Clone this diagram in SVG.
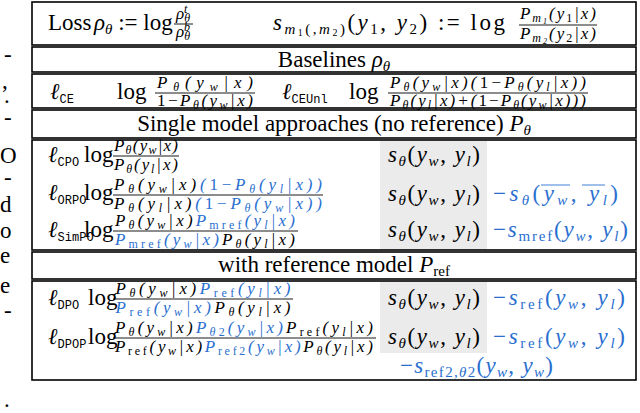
<svg xmlns="http://www.w3.org/2000/svg" width="640" height="413" viewBox="0 0 640 413">
<style>
text{font-family:"Liberation Serif","Times New Roman",serif;fill:#000}
.m{font-size:23px}
.f{font-size:17px;text-anchor:middle}
.i{font-style:italic}
.n{font-style:normal}
.tt{font-family:"Liberation Mono",monospace;font-size:12px;font-style:normal}
.b{fill:#2a6fd0}
.ms{font-size:15px}
.fs{font-size:12px}
.c{text-anchor:middle}
.fl{stroke:#000;stroke-width:0.9}
.bl{stroke:#2a6fd0;stroke-width:0.9}
.frame{fill:none;stroke:#000;stroke-width:1.6}
</style>
<rect width="640" height="413" fill="#fff"/>
<g id="side" class="m">
<text x="4" y="62">-</text><text x="2" y="88">,</text><text x="4" y="103">.</text><text x="4" y="125">-</text>
<text x="0" y="163">O</text><text x="4" y="185">-</text><text x="0" y="212">d</text><text x="0" y="238">o</text>
<text x="0" y="263">e</text><text x="0" y="293">e</text><text x="4" y="318">-</text><text x="4" y="407">.</text>
</g>
<g id="shade"><rect x="380" y="140" width="107" height="110" fill="#ebebeb"/><rect x="380" y="281" width="107" height="72" fill="#ebebeb"/></g>
<g id="frames">
<rect class="frame" x="32" y="2" width="604" height="43"/>
<rect class="frame" x="32" y="47" width="604" height="25"/>
<rect class="frame" x="32" y="74" width="604" height="34"/>
<rect class="frame" x="32" y="110" width="604" height="28"/>
<rect class="frame" x="32" y="140" width="604" height="110"/>
<rect class="frame" x="32" y="252" width="604" height="27"/>
<rect class="frame" x="32" y="281" width="604" height="99"/>
</g>
<g id="row-loss">
<text class="m" x="48" y="30">Loss</text>
<text class="m" x="94" y="30"><tspan class="i">ρ</tspan><tspan class="ms i" dy="4">θ</tspan><tspan dy="-4"> := log</tspan></text>
<text class="f i" x="183" y="19">ρ<tspan class="fs" dy="3">θ</tspan><tspan class="fs" dx="-6" dy="-9">t</tspan></text>
<line class="fl" x1="174" y1="24" x2="193" y2="24"/>
<text class="f i" x="183" y="37">ρ<tspan class="fs" dy="3">θ</tspan><tspan class="fs" dx="-6" dy="-9">b</tspan></text>
<text class="m" x="273" y="30" textLength="232"><tspan class="i">s</tspan><tspan class="ms i" dy="4">m</tspan><tspan font-size="10" dy="2">1</tspan><tspan class="ms" dy="-2">(,</tspan><tspan class="ms i">m</tspan><tspan font-size="10" dy="2">2</tspan><tspan class="ms" dy="-2">)</tspan><tspan dy="-4">(</tspan><tspan class="i">y</tspan><tspan class="ms" dy="4">1</tspan><tspan dy="-4">, </tspan><tspan class="i">y</tspan><tspan class="ms" dy="4">2</tspan><tspan dy="-4">) := log</tspan></text>
<text class="f i" x="558" y="19" textLength="76">P<tspan class="fs" dy="3">m</tspan><tspan font-size="8" dy="2">1</tspan><tspan dy="-5">(y</tspan><tspan class="fs n" dy="3">1</tspan><tspan dy="-3">|x)</tspan></text>
<line class="fl" x1="519" y1="25" x2="597" y2="25"/>
<text class="f i" x="558" y="39" textLength="76">P<tspan class="fs" dy="3">m</tspan><tspan font-size="8" dy="2">2</tspan><tspan dy="-5">(y</tspan><tspan class="fs n" dy="3">2</tspan><tspan dy="-3">|x)</tspan></text>
</g>
<g id="row-baselines"><text class="m c" x="334" y="67">Baselines <tspan class="i">ρ</tspan><tspan class="ms i" dy="4">θ</tspan></text></g>
<g id="row-ce">
<text class="m" x="50" y="99"><tspan class="i">ℓ</tspan><tspan class="tt" dy="4">CE</tspan></text><text class="m" x="117" y="99">log</text>
<text class="f i" x="205" y="88" textLength="96">P<tspan class="fs" dy="3">θ</tspan><tspan dy="-3">(y</tspan><tspan class="fs" dy="3">w</tspan><tspan dy="-3">|x)</tspan></text>
<line class="fl" x1="155" y1="93" x2="255" y2="93"/>
<text class="f i" x="205" y="106" textLength="96"><tspan class="n">1−</tspan>P<tspan class="fs" dy="3">θ</tspan><tspan dy="-3">(y</tspan><tspan class="fs" dy="3">w</tspan><tspan dy="-3">|x)</tspan></text>
<text class="m" x="282" y="99"><tspan class="i">ℓ</tspan><tspan class="tt" dy="4">CEUnl</tspan></text><text class="m" x="349" y="99">log</text>
<text class="f i" x="488" y="88" textLength="196">P<tspan class="fs" dy="3">θ</tspan><tspan dy="-3">(y</tspan><tspan class="fs" dy="3">w</tspan><tspan dy="-3">|x)(</tspan><tspan class="n">1−</tspan>P<tspan class="fs" dy="3">θ</tspan><tspan dy="-3">(y</tspan><tspan class="fs" dy="3">l</tspan><tspan dy="-3">|x))</tspan></text>
<line class="fl" x1="388" y1="93" x2="588" y2="93"/>
<text class="f i" x="488" y="106" textLength="196">P<tspan class="fs" dy="3">θ</tspan><tspan dy="-3">(y</tspan><tspan class="fs" dy="3">l</tspan><tspan dy="-3">|x)+(</tspan><tspan class="n">1−</tspan>P<tspan class="fs" dy="3">θ</tspan><tspan dy="-3">(y</tspan><tspan class="fs" dy="3">w</tspan><tspan dy="-3">|x)))</tspan></text>
</g>
<g id="row-single"><text class="m c" x="334" y="131">Single model approaches (no reference) <tspan class="i">P</tspan><tspan class="ms i" dy="4">θ</tspan></text></g>
<g id="row-cpo">
<text class="m" x="48" y="162"><tspan class="i">ℓ</tspan><tspan class="tt" dy="4">CPO</tspan></text><text class="m" x="84" y="162">log</text>
<text class="f i" x="146" y="151" textLength="64">P<tspan class="fs" dy="3">θ</tspan><tspan dy="-3">(y</tspan><tspan class="fs" dy="3">w</tspan><tspan dy="-3">|x)</tspan></text>
<line class="fl" x1="113" y1="156" x2="179" y2="156"/>
<text class="f i" x="146" y="170" textLength="64">P<tspan class="fs" dy="3">θ</tspan><tspan dy="-3">(y</tspan><tspan class="fs" dy="3">l</tspan><tspan dy="-3">|x)</tspan></text>
<text class="m i" x="388" y="162" textLength="92">s<tspan class="ms" dy="4">θ</tspan><tspan dy="-4" class="n">(</tspan>y<tspan class="ms" dy="4">w</tspan><tspan dy="-4" class="n">, </tspan>y<tspan class="ms" dy="4">l</tspan><tspan dy="-4" class="n">)</tspan></text>
</g>
<g id="row-orpo">
<text class="m" x="48" y="200"><tspan class="i">ℓ</tspan><tspan class="tt" dy="4">ORPO</tspan></text><text class="m" x="84" y="200">log</text>
<text class="f i" x="218" y="190" textLength="208">P<tspan class="fs" dy="3">θ</tspan><tspan dy="-3">(y</tspan><tspan class="fs" dy="3">w</tspan><tspan dy="-3">|x)</tspan><tspan class="b">(<tspan class="n">1−</tspan>P<tspan class="fs" dy="3">θ</tspan><tspan dy="-3">(y</tspan><tspan class="fs" dy="3">l</tspan><tspan dy="-3">|x))</tspan></tspan></text>
<line class="fl" x1="113" y1="195" x2="323" y2="195"/>
<text class="f i" x="218" y="209" textLength="208">P<tspan class="fs" dy="3">θ</tspan><tspan dy="-3">(y</tspan><tspan class="fs" dy="3">l</tspan><tspan dy="-3">|x)</tspan><tspan class="b">(<tspan class="n">1−</tspan>P<tspan class="fs" dy="3">θ</tspan><tspan dy="-3">(y</tspan><tspan class="fs" dy="3">w</tspan><tspan dy="-3">|x))</tspan></tspan></text>
<text class="m i" x="388" y="201" textLength="92">s<tspan class="ms" dy="4">θ</tspan><tspan dy="-4" class="n">(</tspan>y<tspan class="ms" dy="4">w</tspan><tspan dy="-4" class="n">, </tspan>y<tspan class="ms" dy="4">l</tspan><tspan dy="-4" class="n">)</tspan></text>
<text class="m i b" x="493" y="201" textLength="125"><tspan class="n">−</tspan>s<tspan class="ms" dy="4">θ</tspan><tspan dy="-4" class="n">(</tspan>y<tspan class="ms" dy="4">w</tspan><tspan dy="-4" class="n">, </tspan>y<tspan class="ms" dy="4">l</tspan><tspan dy="-4" class="n">)</tspan></text>
<line class="bl" x1="541" y1="185" x2="570" y2="185"/><line class="bl" x1="582" y1="185" x2="605" y2="185"/>
</g>
<g id="row-simpo">
<text class="m" x="48" y="237"><tspan class="i">ℓ</tspan><tspan class="tt" dy="4">SimPO</tspan></text><text class="m" x="84" y="237">log</text>
<text class="f i" x="205" y="226" textLength="180">P<tspan class="fs" dy="3">θ</tspan><tspan dy="-3">(y</tspan><tspan class="fs" dy="3">w</tspan><tspan dy="-3">|x)</tspan><tspan class="b">P<tspan class="fs n" dy="3">mref</tspan><tspan dy="-3">(y</tspan><tspan class="fs" dy="3">l</tspan><tspan dy="-3">|x)</tspan></tspan></text>
<line class="fl" x1="113" y1="231" x2="298" y2="231"/>
<text class="f i" x="205" y="245" textLength="180"><tspan class="b">P<tspan class="fs n" dy="3">mref</tspan><tspan dy="-3">(y</tspan><tspan class="fs" dy="3">w</tspan><tspan dy="-3">|x)</tspan></tspan>P<tspan class="fs" dy="3">θ</tspan><tspan dy="-3">(y</tspan><tspan class="fs" dy="3">l</tspan><tspan dy="-3">|x)</tspan></text>
<text class="m i" x="388" y="237" textLength="92">s<tspan class="ms" dy="4">θ</tspan><tspan dy="-4" class="n">(</tspan>y<tspan class="ms" dy="4">w</tspan><tspan dy="-4" class="n">, </tspan>y<tspan class="ms" dy="4">l</tspan><tspan dy="-4" class="n">)</tspan></text>
<text class="m i b" x="493" y="237" textLength="135"><tspan class="n">−</tspan>s<tspan class="ms n" dy="4">mref</tspan><tspan dy="-4" class="n">(</tspan>y<tspan class="ms" dy="4">w</tspan><tspan dy="-4" class="n">, </tspan>y<tspan class="ms" dy="4">l</tspan><tspan dy="-4" class="n">)</tspan></text>
</g>
<g id="row-with"><text class="m c" x="334" y="272">with reference model <tspan class="i">P</tspan><tspan class="ms" dy="4">ref</tspan></text></g>
<g id="row-dpo">
<text class="m" x="48" y="305"><tspan class="i">ℓ</tspan><tspan class="tt" dy="4">DPO</tspan></text><text class="m" x="88" y="305">log</text>
<text class="f i" x="203" y="294" textLength="175">P<tspan class="fs" dy="3">θ</tspan><tspan dy="-3">(y</tspan><tspan class="fs" dy="3">w</tspan><tspan dy="-3">|x)</tspan><tspan class="b">P<tspan class="fs n" dy="3">ref</tspan><tspan dy="-3">(y</tspan><tspan class="fs" dy="3">l</tspan><tspan dy="-3">|x)</tspan></tspan></text>
<line class="fl" x1="113" y1="299" x2="293" y2="299"/>
<text class="f i" x="203" y="313" textLength="175"><tspan class="b">P<tspan class="fs n" dy="3">ref</tspan><tspan dy="-3">(y</tspan><tspan class="fs" dy="3">w</tspan><tspan dy="-3">|x)</tspan></tspan>P<tspan class="fs" dy="3">θ</tspan><tspan dy="-3">(y</tspan><tspan class="fs" dy="3">l</tspan><tspan dy="-3">|x)</tspan></text>
<text class="m i" x="388" y="305" textLength="92">s<tspan class="ms" dy="4">θ</tspan><tspan dy="-4" class="n">(</tspan>y<tspan class="ms" dy="4">w</tspan><tspan dy="-4" class="n">, </tspan>y<tspan class="ms" dy="4">l</tspan><tspan dy="-4" class="n">)</tspan></text>
<text class="m i b" x="493" y="305" textLength="132"><tspan class="n">−</tspan>s<tspan class="ms n" dy="4">ref</tspan><tspan dy="-4" class="n">(</tspan>y<tspan class="ms" dy="4">w</tspan><tspan dy="-4" class="n">, </tspan>y<tspan class="ms" dy="4">l</tspan><tspan dy="-4" class="n">)</tspan></text>
</g>
<g id="row-dpop">
<text class="m" x="48" y="344"><tspan class="i">ℓ</tspan><tspan class="tt" dy="4">DPOP</tspan></text><text class="m" x="88" y="344">log</text>
<text class="f i" x="244" y="333" textLength="258">P<tspan class="fs" dy="3">θ</tspan><tspan dy="-3">(y</tspan><tspan class="fs" dy="3">w</tspan><tspan dy="-3">|x)</tspan><tspan class="b">P<tspan class="fs" dy="3">θ<tspan class="n">2</tspan></tspan><tspan dy="-3">(y</tspan><tspan class="fs" dy="3">w</tspan><tspan dy="-3">|x)</tspan></tspan>P<tspan class="fs n" dy="3">ref</tspan><tspan dy="-3">(y</tspan><tspan class="fs" dy="3">l</tspan><tspan dy="-3">|x)</tspan></text>
<line class="fl" x1="113" y1="338" x2="376" y2="338"/>
<text class="f i" x="244" y="352" textLength="258">P<tspan class="fs n" dy="3">ref</tspan><tspan dy="-3">(y</tspan><tspan class="fs" dy="3">w</tspan><tspan dy="-3">|x)</tspan><tspan class="b">P<tspan class="fs n" dy="3">ref2</tspan><tspan dy="-3">(y</tspan><tspan class="fs" dy="3">w</tspan><tspan dy="-3">|x)</tspan></tspan>P<tspan class="fs" dy="3">θ</tspan><tspan dy="-3">(y</tspan><tspan class="fs" dy="3">l</tspan><tspan dy="-3">|x)</tspan></text>
<text class="m i" x="388" y="344" textLength="92">s<tspan class="ms" dy="4">θ</tspan><tspan dy="-4" class="n">(</tspan>y<tspan class="ms" dy="4">w</tspan><tspan dy="-4" class="n">, </tspan>y<tspan class="ms" dy="4">l</tspan><tspan dy="-4" class="n">)</tspan></text>
<text class="m i b" x="493" y="344" textLength="132"><tspan class="n">−</tspan>s<tspan class="ms n" dy="4">ref</tspan><tspan dy="-4" class="n">(</tspan>y<tspan class="ms" dy="4">w</tspan><tspan dy="-4" class="n">, </tspan>y<tspan class="ms" dy="4">l</tspan><tspan dy="-4" class="n">)</tspan></text>
<text class="m i b" x="400" y="373" textLength="153"><tspan class="n">−</tspan>s<tspan class="ms" dy="4"><tspan class="n">ref2,</tspan>θ<tspan class="n">2</tspan></tspan><tspan dy="-4" class="n">(</tspan>y<tspan class="ms" dy="4">w</tspan><tspan dy="-4" class="n">, </tspan>y<tspan class="ms" dy="4">w</tspan><tspan dy="-4" class="n">)</tspan></text>
</g>
<g id="connectors"/>
</svg>
